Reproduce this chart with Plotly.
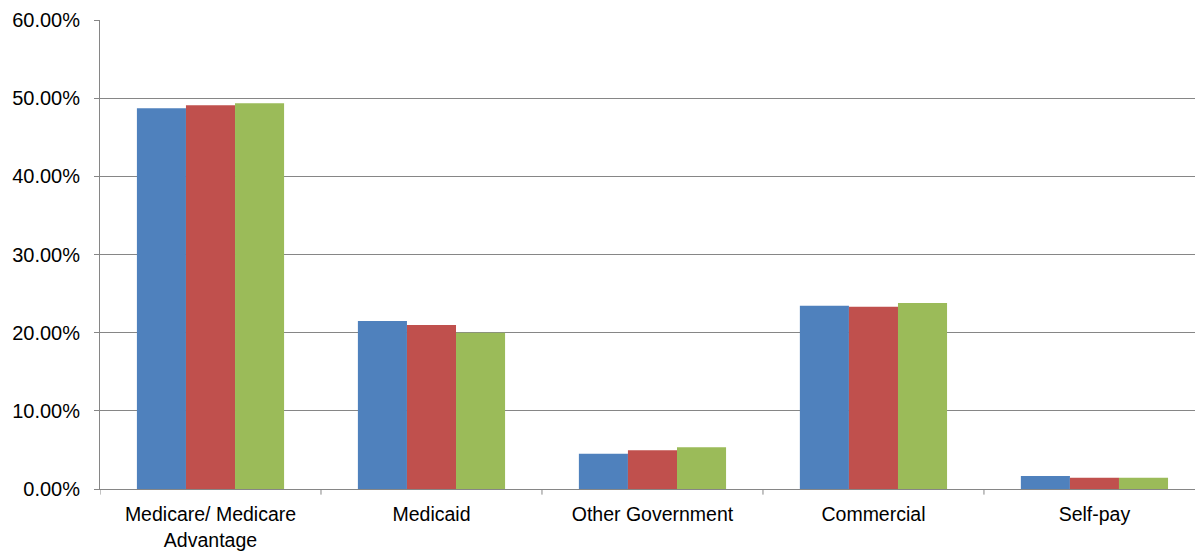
import plotly.graph_objects as go

categories = ["Medicare/ Medicare<br>Advantage", "Medicaid", "Other Government", "Commercial", "Self-pay"]
series_a = [0.487, 0.215, 0.045, 0.2345, 0.0166]
series_b = [0.491, 0.2098, 0.0495, 0.2332, 0.0145]
series_c = [0.4934, 0.200, 0.0533, 0.2379, 0.0145]
series_names = ["Series 1", "Series 2", "Series 3"]
colors = ["#4F81BD", "#C0504D", "#9BBB59"]
y_ticks = [0, 0.1, 0.2, 0.3, 0.4, 0.5, 0.6]

fig = go.Figure()
for name, vals, col in zip(series_names, [series_a, series_b, series_c], colors):
    fig.add_trace(go.Bar(x=categories, y=vals, name=name, marker=dict(color=col, line=dict(width=0))))

fig.update_layout(
    width=1196, height=552,
    margin=dict(l=100, r=1, t=20, b=63),
    barmode="group", bargap=0.334, bargroupgap=0,
    showlegend=False,
    plot_bgcolor="white", paper_bgcolor="white",
    font=dict(family="Liberation Sans, Arial", size=20, color="black"),
)
fig.update_yaxes(
    range=[0, 0.6], tickvals=y_ticks, tickformat=".2%",
    showgrid=True, gridcolor="#868686", gridwidth=1,
    showline=True, linecolor="#868686", linewidth=1,
    ticks="outside", ticklen=5, tickcolor="#868686",
    zeroline=False, tickfont=dict(size=20), ticklabelstandoff=10,
    automargin=False,
)
fig.update_xaxes(
    range=[-0.5, 4.455],
    showline=True, linecolor="#868686", linewidth=1,
    ticks="", tickfont=dict(size=19.5), showgrid=False, ticklabelstandoff=8,
    automargin=False,
)
# category boundary tick marks
for i in range(5):
    fig.add_shape(type="line", xref="x", yref="paper", x0=i - 0.5, x1=i - 0.5, y0=0, y1=-0.012,
                  line=dict(color="#868686", width=1))
fig.write_html("out.html")
